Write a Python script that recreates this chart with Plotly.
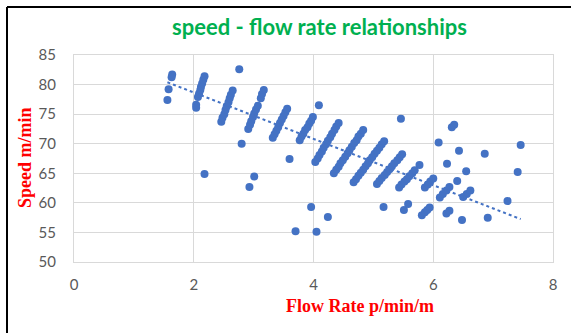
import plotly.graph_objects as go

# ---- data ----
# isolated / scattered observations
iso_flow = [1.64, 1.63, 1.58, 1.56, 2.04, 2.04, 2.18, 2.76, 2.80, 3.01, 2.93,
            3.60, 3.70, 4.09, 3.96, 4.24, 4.05, 5.46, 5.17, 5.77, 6.09, 6.31,
            6.35, 6.43, 6.86, 7.46, 6.23, 6.55, 7.41, 6.40, 7.24, 6.48, 6.91,
            5.51, 5.58, 6.22, 6.27]
iso_speed = [81.7, 81.25, 79.2, 77.4, 76.6, 76.1, 64.9, 82.6, 70.0, 64.45, 62.7,
             67.4, 55.2, 76.5, 59.3, 57.6, 55.1, 74.2, 59.3, 66.4, 70.2, 72.8,
             73.2, 68.8, 68.3, 69.8, 66.6, 65.35, 65.2, 63.7, 60.3, 57.1, 57.5,
             58.8, 59.8, 58.2, 58.65]

# dense streaks of observations
b_flow = [2.07, 2.09, 2.11, 2.12, 2.14, 2.16, 2.18]
b_speed = [77.9, 78.5, 79.1, 79.6, 80.2, 80.8, 81.4]
c_flow = [2.46, 2.48, 2.51, 2.53, 2.55, 2.58, 2.60, 2.62, 2.65]
c_speed = [73.7, 74.4, 75.0, 75.7, 76.3, 77.0, 77.7, 78.3, 79.0]
d_flow = [2.91, 2.94, 2.96, 2.99, 3.01, 3.04, 3.07, 3.12, 3.14, 3.17]
d_speed = [72.5, 73.2, 73.8, 74.5, 75.1, 75.8, 76.4, 77.7, 78.4, 79.1]
e_flow = [3.32, 3.35, 3.38, 3.41, 3.44, 3.47, 3.50, 3.53, 3.56]
e_speed = [71.0, 71.6, 72.2, 72.8, 73.5, 74.1, 74.7, 75.3, 75.9]
f_flow = [3.77, 3.80, 3.83, 3.86, 3.90, 3.93, 3.96, 3.99]
f_speed = [70.6, 71.2, 71.7, 72.3, 72.8, 73.4, 73.9, 74.5]
g_flow = [4.03, 4.07, 4.10, 4.14, 4.17, 4.21, 4.24, 4.28, 4.31, 4.35, 4.38, 4.42]
g_speed = [66.9, 67.5, 68.1, 68.7, 69.3, 69.9, 70.5, 71.1, 71.7, 72.3, 72.9, 73.5]
h_flow = [4.34, 4.38, 4.42, 4.45, 4.49, 4.53, 4.57, 4.60, 4.64, 4.68, 4.72, 4.75, 4.79, 4.83]
h_speed = [65.0, 65.6, 66.1, 66.7, 67.2, 67.8, 68.4, 68.9, 69.5, 70.1, 70.6, 71.2, 71.7, 72.3]
i_flow = [4.67, 4.71, 4.75, 4.79, 4.83, 4.87, 4.91, 4.94, 4.98, 5.02, 5.06, 5.10, 5.14, 5.18]
i_speed = [63.5, 64.0, 64.6, 65.1, 65.6, 66.2, 66.7, 67.2, 67.7, 68.3, 68.8, 69.3, 69.9, 70.4]
j_flow = [5.06, 5.10, 5.14, 5.19, 5.23, 5.27, 5.31, 5.35, 5.40, 5.44, 5.48]
j_speed = [63.2, 63.7, 64.2, 64.7, 65.2, 65.7, 66.2, 66.7, 67.2, 67.7, 68.2]
k_flow = [5.43, 5.47, 5.52, 5.56, 5.60, 5.65, 5.69]
k_speed = [62.6, 63.1, 63.6, 64.0, 64.5, 65.0, 65.5]
l_flow = [5.86, 5.91, 5.95, 6.00]
l_speed = [62.6, 63.1, 63.6, 64.1]
m_flow = [5.81, 5.86, 5.90, 5.94, 6.11, 6.16, 6.22, 6.27, 6.50, 6.56, 6.62]
m_speed = [57.9, 58.4, 58.8, 59.2, 60.9, 61.5, 62.1, 62.7, 61.0, 61.5, 62.1]

# linear trend line
trend_slope = -3.92
trend_intercept = 86.5

x_ticks = [0, 2, 4, 6, 8]
y_ticks = [50, 55, 60, 65, 70, 75, 80, 85]

title_text = "speed - flow rate relationships"
x_title = "Flow Rate p/min/m"
y_title = "Speed m/min"

# ---- build ----
flow = (iso_flow + b_flow + c_flow + d_flow + e_flow + f_flow + g_flow + h_flow
        + i_flow + j_flow + k_flow + l_flow + m_flow)
speed = (iso_speed + b_speed + c_speed + d_speed + e_speed + f_speed + g_speed
         + h_speed + i_speed + j_speed + k_speed + l_speed + m_speed)

blue = "#4472C4"
fig = go.Figure()
fig.add_trace(go.Scatter(x=flow, y=speed, mode="markers",
                         marker=dict(color=blue, size=8, line=dict(width=0)),
                         showlegend=False))
tx = [min(flow), max(flow)]
ty = [trend_intercept + trend_slope * v for v in tx]
fig.add_trace(go.Scatter(x=tx, y=ty, mode="lines",
                         line=dict(color=blue, width=2, dash="dot"),
                         showlegend=False))

W, H = 571, 333
L, R, T, B = 74, 18, 55, 71
pw, ph = W - L - R, H - T - B


def px(xp):
    return (xp - L) / pw


def py(yp):
    return (H - B - yp) / ph


grid = "#d9d9d9"
tickfont = dict(family="Lato, Open Sans, sans-serif", size=15, color="#595959")
fig.update_xaxes(range=[0, 8], tickvals=x_ticks, showgrid=True, gridcolor=grid,
                 gridwidth=1, zeroline=False, showline=True, linecolor=grid,
                 mirror=True, tickfont=tickfont, ticks="", ticklabelstandoff=9)
fig.update_yaxes(range=[50, 85], tickvals=y_ticks, showgrid=True, gridcolor=grid,
                 gridwidth=1, zeroline=False, showline=True, linecolor=grid,
                 mirror=True, tickfont=tickfont, ticks="", ticklabelstandoff=14)

serif_red = dict(family="Liberation Serif, Times New Roman, serif", size=18,
                 color="#FF0000")
fig.update_layout(
    width=W, height=H, margin=dict(l=L, r=R, t=T, b=B),
    paper_bgcolor="white", plot_bgcolor="white",
    annotations=[
        dict(text="<b>" + title_text + "</b>", xref="paper", yref="paper",
             x=px(319), y=py(26), showarrow=False, xanchor="center", yanchor="middle",
             font=dict(family="Lato, Open Sans, sans-serif", size=22, color="#00B050")),
        dict(text="<b>" + x_title + "</b>", xref="paper", yref="paper",
             x=px(360), y=py(306), showarrow=False, xanchor="center", yanchor="middle",
             font=serif_red),
        dict(text="<b>" + y_title + "</b>", xref="paper", yref="paper",
             x=px(25), y=py(158), showarrow=False, xanchor="center", yanchor="middle",
             textangle=-90, font=serif_red),
    ],
    shapes=[
        dict(type="line", xref="paper", yref="paper", x0=px(7), x1=px(W + 5),
             y0=py(7), y1=py(7), line=dict(color="black", width=2)),
        dict(type="line", xref="paper", yref="paper", x0=px(7), x1=px(7),
             y0=py(7), y1=py(H + 5), line=dict(color="black", width=2)),
    ],
)

fig.write_html("out.html")
